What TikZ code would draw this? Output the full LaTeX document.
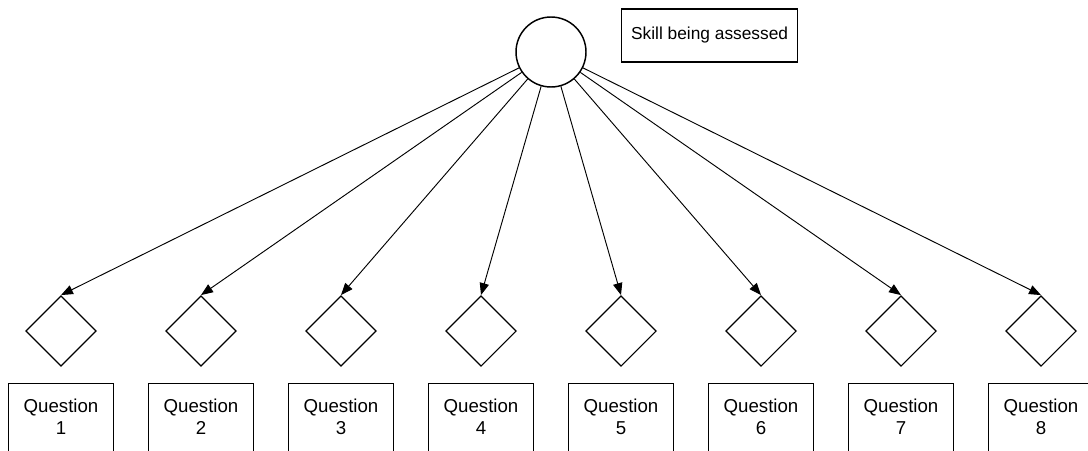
\documentclass[tikz,border=0pt]{standalone}
\usepackage{fontspec}
\setmainfont{Liberation Sans}
\usetikzlibrary{shapes.geometric,arrows.meta}
\begin{document}
\begin{tikzpicture}[x=0.75pt,y=-0.75pt,
  line join=miter,
  skill/.style={circle,draw,line width=1.1pt,minimum size=52.5pt,inner sep=0pt},
  item/.style={diamond,draw,line width=0.9pt,minimum width=53pt,minimum height=53pt,inner sep=0pt,shape aspect=1},
  qbox/.style={rectangle,draw,line width=1.1pt,minimum width=79pt,minimum height=75pt,anchor=north},
  qtext/.style={align=center,font=\fontsize{14pt}{16.5pt}\selectfont,inner sep=0pt},
  legend/.style={rectangle,draw,line width=1.1pt,minimum height=40pt,inner xsep=7pt,anchor=west,font=\fontsize{13pt}{15pt}\selectfont},
  link/.style={line width=0.7pt,-{Triangle[length=9pt,width=7pt]}}]
\useasboundingbox (0,0) rectangle (1088,450);
\clip (0,0) rectangle (1088,450);

% latent skill and its legend
\node[skill] (s) at (551,52) {};
\node[legend] (lg) at (621,35.5) {Skill being assessed};

% observed items with their question boxes
\foreach \i in {1,...,8} {
  \pgfmathsetmacro{\cx}{61+140*(\i-1)}
  \node[item] (d\i) at (\cx,331) {};
  \node[qbox] (b\i) at (\cx,383) {};
  \node[qtext] (t\i) at (\cx,417) {Question\\\i};
  \draw[link] (s) -- (d\i.north);
}
\end{tikzpicture}
\end{document}
